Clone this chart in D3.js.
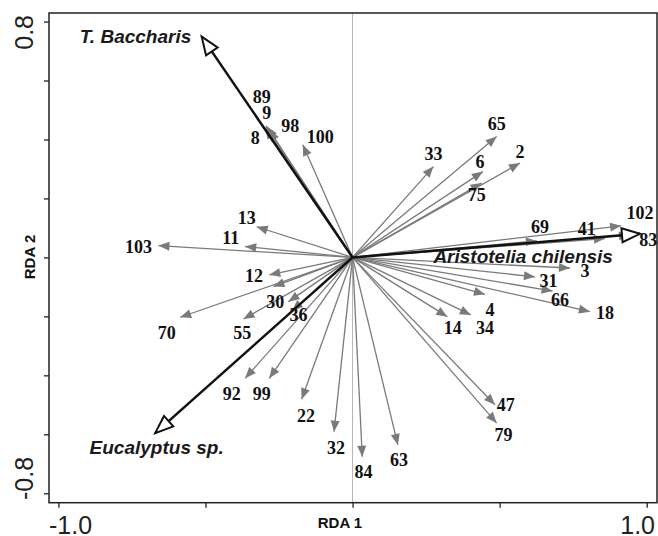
<!DOCTYPE html>
<html lang="en">
<head>
<meta charset="utf-8">
<title>RDA biplot</title>
<script src="https://cdn.jsdelivr.net/npm/d3@7"></script>
<style>
  body { margin: 0; background: #fff; }
  .num { font-family: "Liberation Serif", "Times New Roman", serif; font-weight: bold; font-size: 18px; fill: #111; }
  .sp { font-family: "Liberation Sans", Arial, sans-serif; font-weight: bold; font-style: italic; font-size: 19px; fill: #1a1a1a; }
  .tick-lab { font-family: "Liberation Sans", Arial, sans-serif; font-size: 25px; fill: #222; }
  .ax-title { font-family: "Liberation Sans", Arial, sans-serif; font-weight: bold; font-size: 15px; fill: #111; }
</style>
</head>
<body>
<div id="chart"></div>
<script>
// site arrows (grey): label, tip on RDA1, tip on RDA2, label position
var siteLabels = ["103","11","13","8","9","89","98","100","12","","30","36","70","55","92","99","22","32","84","63","47","79","14","34","4","18","66","31","3","33","65","6","2","75","69","41","102","83"];
var siteX = [-0.660,-0.365,-0.326,-0.297,-0.291,-0.294,-0.284,-0.169,-0.283,-0.269,-0.218,-0.206,-0.586,-0.371,-0.365,-0.283,-0.173,-0.063,0.033,0.154,0.484,0.490,0.322,0.402,0.450,0.807,0.680,0.620,0.739,0.275,0.490,0.443,0.569,0.439,0.627,0.858,0.913,0.943];
var siteY = [0.040,0.037,0.104,0.439,0.443,0.446,0.432,0.382,-0.059,-0.099,-0.150,-0.181,-0.203,-0.209,-0.410,-0.410,-0.481,-0.591,-0.676,-0.636,-0.500,-0.562,-0.201,-0.195,-0.125,-0.184,-0.114,-0.066,-0.036,0.308,0.410,0.291,0.320,0.252,0.056,0.064,0.107,0.076];
var siteLabX = [-0.728,-0.414,-0.360,-0.331,-0.292,-0.309,-0.212,-0.110,-0.335,0,-0.263,-0.184,-0.632,-0.375,-0.411,-0.309,-0.158,-0.056,0.037,0.158,0.521,0.513,0.341,0.450,0.467,0.858,0.705,0.666,0.790,0.275,0.490,0.433,0.569,0.422,0.637,0.796,0.977,1.005];
var siteLabY = [0.037,0.066,0.134,0.405,0.490,0.545,0.446,0.409,-0.063,0,-0.150,-0.195,-0.255,-0.255,-0.461,-0.461,-0.538,-0.646,-0.727,-0.687,-0.500,-0.602,-0.240,-0.238,-0.176,-0.189,-0.144,-0.079,-0.046,0.351,0.453,0.325,0.359,0.212,0.104,0.096,0.150,0.059];

// species arrows (black)
var speciesNames = ["T. Baccharis", "Eucalyptus sp.", "Aristotelia chilensis"];
var speciesX = [-0.513, -0.671, 0.977];
var speciesY = [0.749, -0.596, 0.080];
var speciesLabX = [-0.738, -0.666, 0.580];
var speciesLabY = [0.751, -0.642, 0.003];

// axes
var xTicks = [-1.0, -0.5, 0, 0.5, 1.0];
var yTicks = [-0.8, -0.6, -0.4, -0.2, 0, 0.2, 0.4, 0.6, 0.8];
var xTickLabels = ["-1.0", "1.0"];
var yTickLabels = ["-0.8", "0.8"];

var W = 658, H = 536;
var pLeft = 49, pRight = 657, pTop = 13, pBottom = 502.7;

var svg = d3.select("#chart").append("svg")
  .attr("width", W).attr("height", H);

var x = d3.scaleLinear().domain([-1.032, 1.035]).range([pLeft, pRight]);
var y = d3.scaleLinear().domain([-0.832, 0.829]).range([pBottom, pTop]);

var defs = svg.append("defs");
defs.append("marker")
  .attr("id", "greyHead").attr("markerUnits", "userSpaceOnUse")
  .attr("markerWidth", 12).attr("markerHeight", 10)
  .attr("refX", 11).attr("refY", 4.5).attr("orient", "auto")
  .style("overflow", "visible")
  .append("path").attr("d", "M0,0 L11,4.5 L0,9 Z").attr("fill", "#7a7a7a");
defs.append("marker")
  .attr("id", "openHead").attr("markerUnits", "userSpaceOnUse")
  .attr("markerWidth", 20).attr("markerHeight", 16)
  .attr("refX", 18).attr("refY", 7).attr("orient", "auto")
  .style("overflow", "visible")
  .append("path").attr("d", "M0,0 L18,7 L0,14 Z")
  .attr("fill", "#fff").attr("stroke", "#111").attr("stroke-width", 2)
  .attr("stroke-linejoin", "miter");

// zero line
svg.append("line")
  .attr("x1", x(0)).attr("x2", x(0)).attr("y1", pTop).attr("y2", pBottom)
  .attr("stroke", "#b5b5b5").attr("stroke-width", 1);

// axes ticks
svg.append("g")
  .attr("transform", "translate(" + pLeft + ",0)")
  .call(d3.axisLeft(y).tickValues(yTicks).tickSize(5).tickFormat(""))
  .call(function(g) { g.select(".domain").remove(); })
  .selectAll("line").attr("stroke", "#222").attr("stroke-width", 1.3);
svg.append("g")
  .attr("transform", "translate(0," + pBottom + ")")
  .call(d3.axisBottom(x).tickValues(xTicks).tickSize(5).tickFormat(""))
  .call(function(g) { g.select(".domain").remove(); })
  .selectAll("line").attr("stroke", "#222").attr("stroke-width", 1.3);

// frame
svg.append("rect")
  .attr("x", pLeft).attr("y", pTop)
  .attr("width", pRight - pLeft).attr("height", pBottom - pTop)
  .attr("fill", "none").attr("stroke", "#222").attr("stroke-width", 1.5);

// tick labels (only the ends)
svg.append("text").attr("class", "tick-lab")
  .attr("x", pLeft).attr("y", 534).attr("text-anchor", "start").text(xTickLabels[0]);
svg.append("text").attr("class", "tick-lab")
  .attr("x", 655).attr("y", 534).attr("text-anchor", "end").text(xTickLabels[1]);
svg.append("text").attr("class", "tick-lab")
  .attr("transform", "translate(33,500) rotate(-90)").attr("text-anchor", "start").text(yTickLabels[0]);
svg.append("text").attr("class", "tick-lab")
  .attr("transform", "translate(33,15) rotate(-90)").attr("text-anchor", "end").text(yTickLabels[1]);

// axis titles
svg.append("text").attr("class", "ax-title")
  .attr("x", 340).attr("y", 528).attr("text-anchor", "middle").text("RDA 1");
svg.append("text").attr("class", "ax-title")
  .attr("transform", "translate(35,257) rotate(-90)").attr("text-anchor", "middle").text("RDA 2");

// grey site arrows
var sites = siteLabels.map(function(l, i) {
  return { label: l, x: siteX[i], y: siteY[i], lx: siteLabX[i], ly: siteLabY[i] };
});
svg.append("g").selectAll("line").data(sites).enter().append("line")
  .attr("x1", x(0)).attr("y1", y(0))
  .attr("x2", function(d) { return x(d.x); })
  .attr("y2", function(d) { return y(d.y); })
  .attr("stroke", "#7a7a7a").attr("stroke-width", 1.3)
  .attr("marker-end", "url(#greyHead)");

// black species arrows
var species = speciesNames.map(function(n, i) {
  return { name: n, x: speciesX[i], y: speciesY[i], lx: speciesLabX[i], ly: speciesLabY[i] };
});
svg.append("g").selectAll("line").data(species).enter().append("line")
  .attr("x1", x(0)).attr("y1", y(0))
  .attr("x2", function(d) { return x(d.x); })
  .attr("y2", function(d) { return y(d.y); })
  .attr("stroke", "#111").attr("stroke-width", 2.5)
  .attr("marker-end", "url(#openHead)");

// labels
svg.append("g").selectAll("text").data(sites.filter(function(d) { return d.label !== ""; }))
  .enter().append("text").attr("class", "num")
  .attr("x", function(d) { return x(d.lx); })
  .attr("y", function(d) { return y(d.ly); })
  .attr("dy", "0.35em").attr("text-anchor", "middle")
  .text(function(d) { return d.label; });

svg.append("g").selectAll("text").data(species)
  .enter().append("text").attr("class", "sp")
  .attr("x", function(d) { return x(d.lx); })
  .attr("y", function(d) { return y(d.ly); })
  .attr("dy", "0.36em").attr("text-anchor", "middle")
  .text(function(d) { return d.name; });
</script>
</body>
</html>
